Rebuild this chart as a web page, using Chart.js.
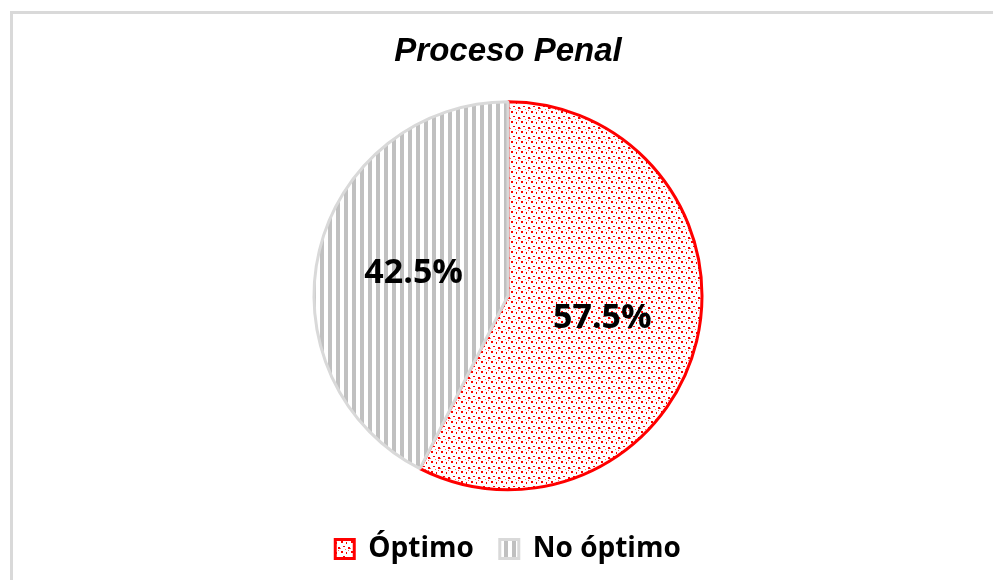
<!DOCTYPE html>
<html>
<head>
<meta charset="utf-8">
<script src="https://cdn.jsdelivr.net/npm/chart.js@4/dist/chart.umd.min.js"></script>
<style>
  body { margin: 0; background: #fff; overflow: hidden; }
  #frame { position: absolute; left: 10px; top: 11px; width: 1010px; height: 600px; border: 3px solid #d9d9d9; }
  #wrap { position: absolute; left: 0; top: 0; width: 993px; height: 580px; }
</style>
</head>
<body>
<div id="frame"></div>
<div id="wrap"><canvas id="pie-chart" width="993" height="580"></canvas></div>
<script>
// Chart data
const categories = ['Óptimo', 'No óptimo'];
const percentages = [57.5, 42.5];
const chartTitle = 'Proceso Penal';

// Red dotted fill
function dotPattern() {
    const c = document.createElement('canvas');
    c.width = 10; c.height = 10;
    const g = c.getContext('2d');
    g.fillStyle = '#ffffff';
    g.fillRect(0, 0, 10, 10);
    g.fillStyle = '#ff0000';
    g.fillRect(1, 1, 2, 2);
    g.fillRect(6, 2, 1, 2);
    g.fillRect(3, 6, 2, 1);
    g.fillRect(8, 7, 2, 2);
    g.fillStyle = 'rgba(255,0,0,0.6)';
    g.fillRect(8, 0, 1, 1);
    g.fillRect(0, 8, 1, 1);
    g.fillRect(5, 9, 1, 1);
    return g.createPattern(c, 'repeat');
}

// Grey vertical stripes
function stripePattern() {
    const c = document.createElement('canvas');
    c.width = 8; c.height = 8;
    const g = c.getContext('2d');
    g.fillStyle = '#ffffff';
    g.fillRect(0, 0, 8, 8);
    g.fillStyle = '#c0c0c0';
    g.fillRect(0, 0, 4, 8);
    return g.createPattern(c, 'repeat');
}

// Percent labels inside slices
const sliceLabels = {
    id: 'sliceLabels',
    afterDatasetsDraw(chart) {
        const ctx = chart.ctx;
        const meta = chart.getDatasetMeta(0);
        ctx.save();
        ctx.font = 'bold 34px "Open Sans"';
        ctx.fillStyle = '#000';
        ctx.textAlign = 'center';
        ctx.textBaseline = 'middle';
        meta.data.forEach((arc, i) => {
            const p = arc.getProps(['x', 'y', 'startAngle', 'endAngle', 'outerRadius'], true);
            const mid = (p.startAngle + p.endAngle) / 2;
            const r = p.outerRadius * 0.5;
            const value = chart.data.datasets[0].data[i];
            ctx.fillText(value.toFixed(1) + '%', p.x + Math.cos(mid) * r, p.y + Math.sin(mid) * r);
        });
        ctx.restore();
    }
};

const ctx = document.getElementById('pie-chart').getContext('2d');
new Chart(ctx, {
    type: 'pie',
    data: {
        labels: categories,
        datasets: [{
            data: percentages,
            backgroundColor: [dotPattern(), stripePattern()],
            borderColor: ['#ff0000', '#d9d9d9'],
            borderWidth: 3,
            radius: 194
        }]
    },
    options: {
        responsive: false,
        animation: false,
        layout: { padding: { left: 23, bottom: 7 } },
        plugins: {
            title: {
                display: true,
                text: chartTitle,
                color: '#000',
                font: { family: '"Liberation Sans", Arial', size: 33, style: 'italic', weight: 'bold' },
                padding: { top: 32, bottom: 11 }
            },
            legend: {
                position: 'bottom',
                labels: {
                    color: '#000',
                    boxWidth: 19,
                    boxHeight: 19,
                    padding: 26,
                    font: { family: '"Open Sans"', size: 28, weight: 'bold' }
                }
            },
            tooltip: { enabled: false }
        }
    },
    plugins: [sliceLabels]
});
</script>
</body>
</html>
